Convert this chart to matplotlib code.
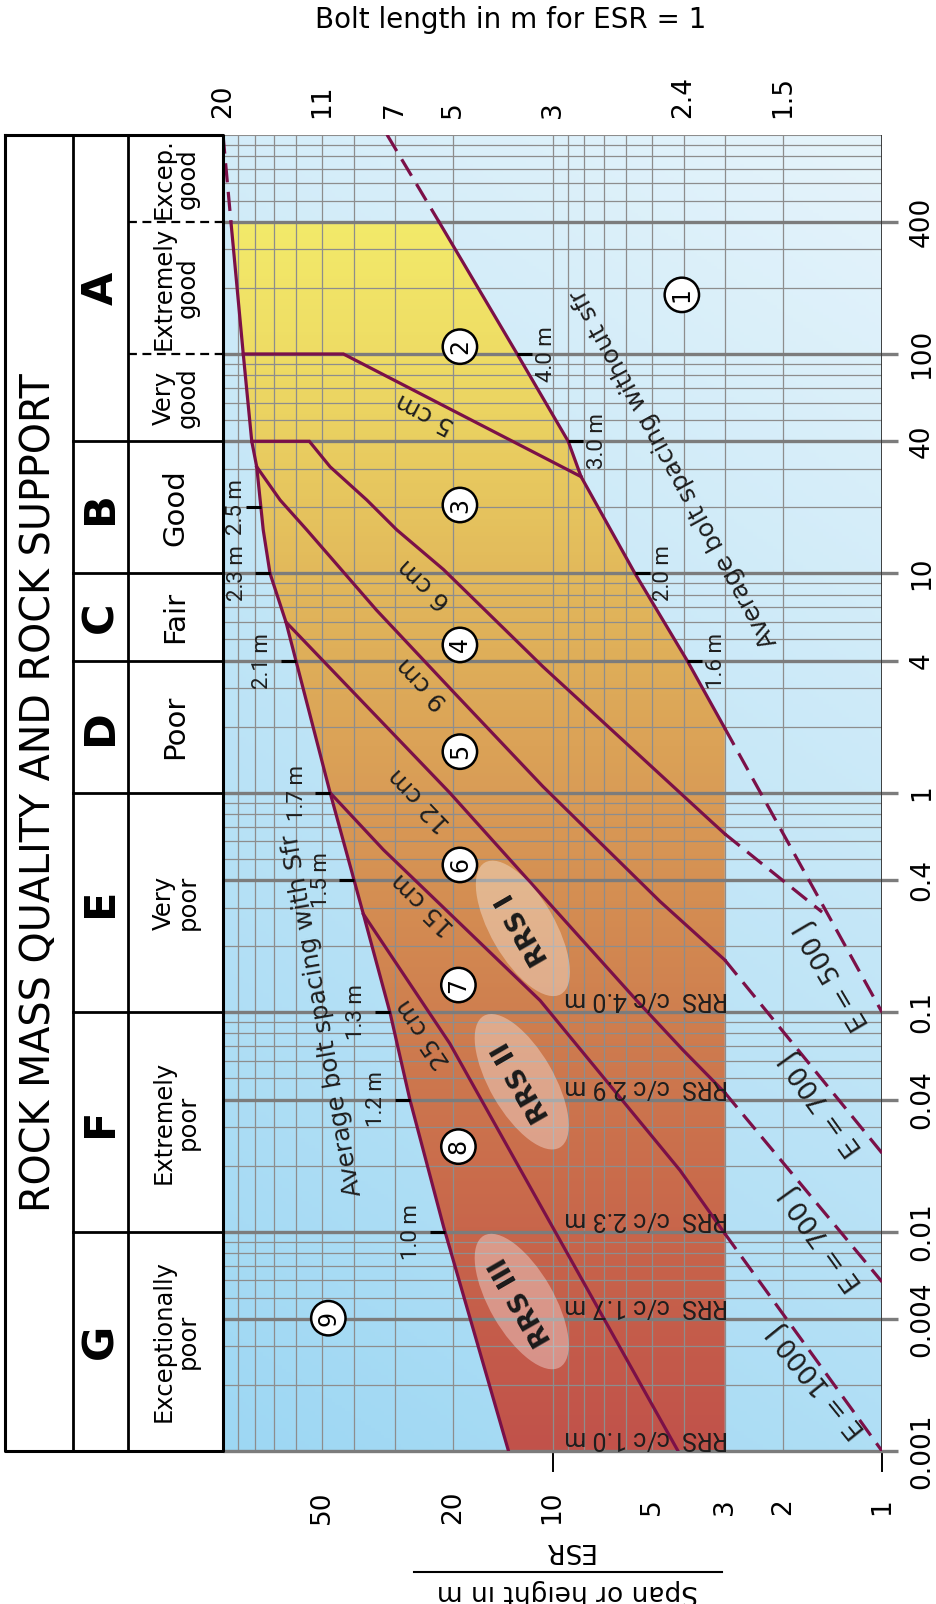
import numpy as np
import matplotlib
matplotlib.use('Agg')
import matplotlib.pyplot as plt
from matplotlib.patches import Polygon, Ellipse
from matplotlib.colors import LinearSegmentedColormap, to_rgb
from matplotlib.transforms import IdentityTransform

plt.rcParams['font.family'] = ['DejaVu Sans']

# ---- values: Q value and span/ESR ----
# left boundary of the support zone ("average bolt spacing with sfr")
with_q = [1000, 400, 100, 40, 30.6, 15.8, 10, 6.0, 1.0, 0.28, 0.099, 0.04, 0.0105, 0.001]
with_s = [100, 94.6, 86.8, 81.8, 79.0, 75.5, 72.0, 64.4, 47.3, 37.5, 31.1, 27.1, 21.4, 13.6]
# right boundary ("average bolt spacing without sfr")
without_q = [1000, 400, 100, 40, 27.6, 10, 4.0, 1.97]
without_s = [31.8, 22.1, 12.8, 8.96, 8.19, 5.62, 3.9, 3.0]
cut_span = 3.0

# sprayed concrete thickness boundaries
cm5_q = [100, 100, 27.6]
cm5_s = [86.8, 43.1, 8.19]
cm6_q = [40, 40, 30.6, 21.6, 15.8, 10.4, 3.76, 0.75, 0.65]
cm6_s = [81.8, 54.7, 47.3, 36.6, 29.7, 21.4, 10.7, 3.33, 3.0]
cm9_q = [30.6, 21.6, 15.8, 6.8, 2.84, 1.07, 0.32, 0.173]
cm9_s = [79.0, 67.1, 55.7, 34.2, 19.8, 10.7, 4.72, 3.0]
cm12_q = [6.0, 1.0, 0.113, 0.067, 0.043]
cm12_s = [64.4, 20.5, 5.55, 4.01, 3.0]
cm15_q = [1.0, 0.55, 0.113, 0.019, 0.0098]
cm15_s = [47.3, 32.6, 10.9, 4.1, 3.0]
cm25_q = [0.28, 0.072, 0.001]
cm25_s = [37.5, 20.5, 4.16]

# energy absorption lines (dashed)
e_lines_q = [[1.97, 0.1], [0.65, 0.286], [0.173, 0.0228], [0.043, 0.0059], [0.0098, 0.001]]
e_lines_s = [[3.0, 1.0], [3.0, 1.52], [3.0, 1.0], [3.0, 1.0], [3.0, 1.0]]
e_labels = ['E = 500 J', 'E = 700 J', 'E = 700 J', 'E = 1000 J']
e_lab_q = [0.147, 0.0385, 0.0093, 0.0021]
e_lab_s = [1.41, 1.52, 1.52, 1.57]

# bolt spacing marks
sfr_q = [20, 10, 4, 1, 0.4, 0.1, 0.04, 0.01]
sfr_lab = ['2.5 m', '2.3 m', '2.1 m', '1.7 m', '1.5 m', '1.3 m', '1.2 m', '1.0 m']
nosfr_q = [100, 40, 10, 4]
nosfr_lab = ['4.0 m', '3.0 m', '2.0 m', '1.6 m']

# shotcrete labels
shot_lab = ['5 cm', '6 cm', '9 cm', '12 cm', '15 cm', '25 cm']
shot_s = [24.4, 24.4, 24.7, 25.2, 24.7, 24.7]
shot_q = [53.7, 9.0, 3.16, 0.927, 0.313, 0.080]

# support category numbers
cat_no = ['1', '2', '3', '4', '5', '6', '7', '8', '9']
cat_s = [4.05, 19.1, 19.1, 19.1, 19.1, 19.1, 19.3, 19.3, 47.9]
cat_q = [186, 108, 20.5, 4.72, 1.54, 0.469, 0.133, 0.0244, 0.00403]

# reinforced ribs of sprayed concrete
rrs_lab = ['RRS I', 'RRS II', 'RRS III']
rrs_s = [12.3, 12.4, 12.4]
rrs_q = [0.241, 0.0482, 0.0048]
rrs_cc = ['RRS  c/c 4.0 m', 'RRS  c/c 2.9 m', 'RRS  c/c 2.3 m', 'RRS  c/c 1.7 m', 'RRS  c/c 1.0 m']
rrs_cc_q = [0.1, 0.04, 0.01, 0.004, 0.001]

# axes ticks
q_ticks = [0.001, 0.004, 0.01, 0.04, 0.1, 0.4, 1, 4, 10, 40, 100, 400]
q_ticklab = ['0.001', '0.004', '0.01', '0.04', '0.1', '0.4', '1', '4', '10', '40', '100', '400']
esr_ticks = [50, 20, 10, 5, 3, 2, 1]
bolt_s = [100, 50, 30, 20, 10, 4, 2]
bolt_lab = ['20', '11', '7', '5', '3', '2.4', '1.5']

# rock mass classes
cls_bounds = [1000, 40, 10, 4, 1, 0.1, 0.01, 0.001]
cls_letter = ['A', 'B', 'C', 'D', 'E', 'F', 'G']
desc_bounds = [1000, 400, 100, 40, 10, 4, 1, 0.1, 0.01, 0.001]
desc_text = ['Excep.\ngood', 'Extremely\ngood', 'Very\ngood', 'Good', 'Fair', 'Poor',
             'Very\npoor', 'Extremely\npoor', 'Exceptionally\npoor']

# ---- layout ----
W, H = 936, 1604
X0, X1, Y0, Y1 = 223, 882, 134.6, 1451
DX = (X1 - X0) / 2.0
DY = (Y1 - Y0) / 6.0
LINE = '#7b1048'
TXT = '#1e1e1e'
NARROW = ['Roboto', 'DejaVu Sans']


def sh_s(s, dpx):
    # move a span value dpx pixels to the right
    return s * 10 ** (-dpx / DX)


def sh_q(q, dpx):
    # move a Q value dpx pixels down
    return q * 10 ** (-dpx / DY)


def on_line(q, lq, ls):
    lq = np.log10(lq)
    ls = np.log10(ls)
    o = np.argsort(lq)
    return 10 ** np.interp(np.log10(q), lq[o], ls[o])


fig = plt.figure(figsize=(W / 100, H / 100), dpi=100)
ax = fig.add_axes([X0 / W, 1 - Y1 / H, (X1 - X0) / W, (Y1 - Y0) / H])
ax.set_xscale('log')
ax.set_yscale('log')
ax.axis('off')

# blue background
v, u = np.mgrid[0:1:400j, 0:1:200j]
pale = np.array(to_rgb('#e6f4fb'))
deep = np.array(to_rgb('#9dd7f3'))
t = np.clip(0.75 * v + 0.25 * u, 0, 1)[..., None]
ax.imshow(deep * (1 - t) + pale * t, extent=(0, 1, 0, 1), transform=ax.transAxes,
          origin='lower', aspect='auto', zorder=0)

# coloured support zone
zone_cmap = LinearSegmentedColormap.from_list('zone', [
    (0.0, '#c1524a'), (0.167, '#c8664b'), (0.333, '#cf7f4f'), (0.5, '#d99c56'),
    (0.667, '#e2b95b'), (0.833, '#eedc64'), (0.934, '#f3ea6a'), (1.0, '#f4ee6c')])
zimg = ax.imshow(np.tile(np.linspace(0, 1, 400)[:, None], (1, 2)), cmap=zone_cmap, vmin=0, vmax=1,
                 extent=(0, 1, 0, 1), transform=ax.transAxes, origin='lower', aspect='auto', zorder=1)
wq, ws = np.array(with_q), np.array(with_s)
nq, ns = np.array(without_q), np.array(without_s)
zs = list(ws[wq <= 400]) + [cut_span, cut_span] + list(ns[nq <= 400][::-1])
zq = list(wq[wq <= 400]) + [0.001, nq[-1]] + list(nq[nq <= 400][::-1])
zone = Polygon(np.column_stack([zs, zq]), closed=True, transform=ax.transData, fc='none', ec='none')
ax.add_patch(zone)
zimg.set_clip_path(zone)
ax.set_xlim(100, 1)
ax.set_ylim(0.001, 1000)

# grid
for s in list(range(1, 10)) + list(range(10, 101, 10)):
    ax.axvline(s, color='#8d8d8d', lw=0.9, zorder=2)
for d in range(-3, 3):
    for m in range(1, 10):
        ax.axhline(m * 10.0 ** d, color='#8d8d8d', lw=0.9, zorder=2)
ax.axhline(1000, color='#8d8d8d', lw=1.5, zorder=2)
for q in q_ticks:
    ax.plot([100, sh_s(1, 16)], [q, q], color='#7c7c7c', lw=2.4, clip_on=False, zorder=3,
            solid_capstyle='butt')
ax.axvline(1, color='#333333', lw=1.3, zorder=3)

# boundary lines
dash = (0, (6, 3))
ax.plot(ws[wq >= 400], wq[wq >= 400], color=LINE, lw=2.3, ls=dash, zorder=5)
ax.plot(ws[wq <= 400], wq[wq <= 400], color=LINE, lw=2.3, zorder=5)
ax.plot(ns[nq >= 400], nq[nq >= 400], color=LINE, lw=2.3, ls=dash, zorder=5)
ax.plot(ns[nq <= 400], nq[nq <= 400], color=LINE, lw=2.3, zorder=5)
for ls_, lq_ in [(cm5_s, cm5_q), (cm6_s, cm6_q), (cm9_s, cm9_q), (cm12_s, cm12_q),
                 (cm15_s, cm15_q), (cm25_s, cm25_q)]:
    ax.plot(ls_, lq_, color=LINE, lw=2.3, zorder=5, solid_joinstyle='miter')
for es, eq in zip(e_lines_s, e_lines_q):
    ax.plot(es, eq, color=LINE, lw=2.3, ls=dash, zorder=5)

# bolt spacing marks
for q, lab in zip(sfr_q, sfr_lab):
    s = on_line(q, with_q, with_s)
    ax.plot([s, sh_s(s, -15)], [q, q], color='black', lw=2.2, zorder=6, solid_capstyle='butt')
    sl = min(sh_s(s, -33), sh_s(100, 14))
    ax.text(sl, q, lab, rotation=90, ha='center', va='center', fontsize=16,
            family=NARROW, color=TXT, zorder=7)
for q, lab in zip(nosfr_q, nosfr_lab):
    s = on_line(q, without_q, without_s)
    ax.plot([s, sh_s(s, 15)], [q, q], color='black', lw=2.2, zorder=6, solid_capstyle='butt')
    ax.text(sh_s(s, 29), q, lab, rotation=90, ha='center', va='center', fontsize=16,
            family=NARROW, color=TXT, zorder=7)

# line labels
shot_rot = [152.6, 136.7, 133.3, 133.8, 135.5, 123.7]
for s, q, lab, r in zip(shot_s, shot_q, shot_lab, shot_rot):
    ax.text(s, q, lab, rotation=r, ha='center', va='center', fontsize=18, color=TXT, zorder=7)
ax.text(sh_s(4.72, 14), 30.2, 'Average bolt spacing without sfr', rotation=118.7, ha='center',
        va='center', fontsize=18, color=TXT, zorder=7)
ax.text(50.1, 0.097, 'Average bolt spacing with Sfr', rotation=100, ha='center', va='center',
        fontsize=18, color=TXT, zorder=7)
e_rot = [120.5, 125.7, 125.7, 129]
for s, q, lab, r in zip(e_lab_s, e_lab_q, e_labels, e_rot):
    ax.text(s, q, lab, rotation=r, ha='center', va='center', fontsize=19, color=TXT, zorder=7)

# category circles
for s, q, n in zip(cat_s, cat_q, cat_no):
    ax.text(s, q, n, rotation=90, ha='center', va='center', fontsize=17, zorder=8,
            bbox=dict(boxstyle='circle,pad=0.22', fc='white', ec='black', lw=1.8))

# RRS ellipses and labels
for s, q, lab in zip(rrs_s, rrs_q, rrs_lab):
    cx, cy = ax.transData.transform((s, q))
    ax.add_patch(Ellipse((cx, cy), 152, 64, angle=120, transform=IdentityTransform(),
                         fc='white', ec='none', alpha=0.35, zorder=6))
    ax.text(s, q, lab, rotation=120, ha='center', va='center', fontsize=19, weight='bold',
            color='#1a1a1a', zorder=7)
for q, lab in zip(rrs_cc_q, rrs_cc):
    ax.text(sh_s(cut_span, 3), sh_q(q, -13), lab, rotation=180, rotation_mode='anchor',
            ha='left', va='center', fontsize=18, family=NARROW, color=TXT, zorder=7)

# axis labels
for q, lab in zip(q_ticks, q_ticklab):
    ax.text(sh_s(1, 40), q, lab, rotation=90, ha='center', va='center', fontsize=19, clip_on=False)
for s in esr_ticks:
    ax.text(s, sh_q(0.001, 56), str(s), rotation=90, ha='center', va='center', fontsize=19,
            clip_on=False)
for s in [10, 1]:
    ax.plot([s, s], [0.001, sh_q(0.001, 20)], color='black', lw=1.4, clip_on=False)
for s, lab in zip(bolt_s, bolt_lab):
    ax.text(s, sh_q(1000, -17), lab, rotation=90, rotation_mode='anchor', ha='left', va='center',
            fontsize=19, clip_on=False)

fig.text(511 / W, 1 - 20 / H, 'Bolt length in m for ESR = 1', ha='center', va='center', fontsize=20)
fig.text(567 / W, 1 - 1550 / H, 'ESR', rotation=180, ha='center', va='center', fontsize=19)
fig.text(567 / W, 1 - 1592 / H, 'Span or height in m', rotation=180, ha='center', va='center',
         fontsize=19)
fig.add_artist(plt.Line2D([414 / W, 722 / W], [1 - 1572 / H, 1 - 1572 / H], color='black',
                          lw=1.5))

# rock mass quality table
tb = fig.add_axes([5 / W, 1 - Y1 / H, (X0 - 5) / W, (Y1 - Y0) / H])
tb.set_yscale('log')
tb.set_xlim(0, X0 - 5)
tb.set_ylim(0.001, 1000)
tb.axis('off')
c1, c2, c3 = 68, 123, X0 - 5
tb.plot([0, c3, c3, 0, 0], [1000, 1000, 0.001, 0.001, 1000], color='black', lw=2.2, clip_on=False)
tb.plot([c1, c1], [0.001, 1000], color='black', lw=2.0)
tb.plot([c2, c2], [0.001, 1000], color='black', lw=2.0)
for q in cls_bounds[1:-1]:
    tb.plot([c1, c3], [q, q], color='black', lw=2.0)
for q in [400, 100]:
    tb.plot([c2, c3], [q, q], color='black', lw=1.6, ls=(0, (4, 2.5)))
for i, lab in enumerate(cls_letter):
    qm = np.sqrt(cls_bounds[i] * cls_bounds[i + 1])
    tb.text((c1 + c2) / 2, qm, lab, rotation=90, ha='center', va='center', fontsize=31,
            weight='bold')
for i, lab in enumerate(desc_text):
    qm = np.sqrt(desc_bounds[i] * desc_bounds[i + 1])
    fs = 17.5 if '\n' in lab else 21
    tb.text((c2 + c3) / 2, qm, lab, rotation=90, ha='center', va='center', fontsize=fs,
            multialignment='center', linespacing=1.0)
tb.text(c1 / 2, 1, 'ROCK MASS QUALITY AND ROCK SUPPORT', rotation=90, ha='center', va='center',
        fontsize=28.5)

fig.savefig('out.png', dpi=100)
